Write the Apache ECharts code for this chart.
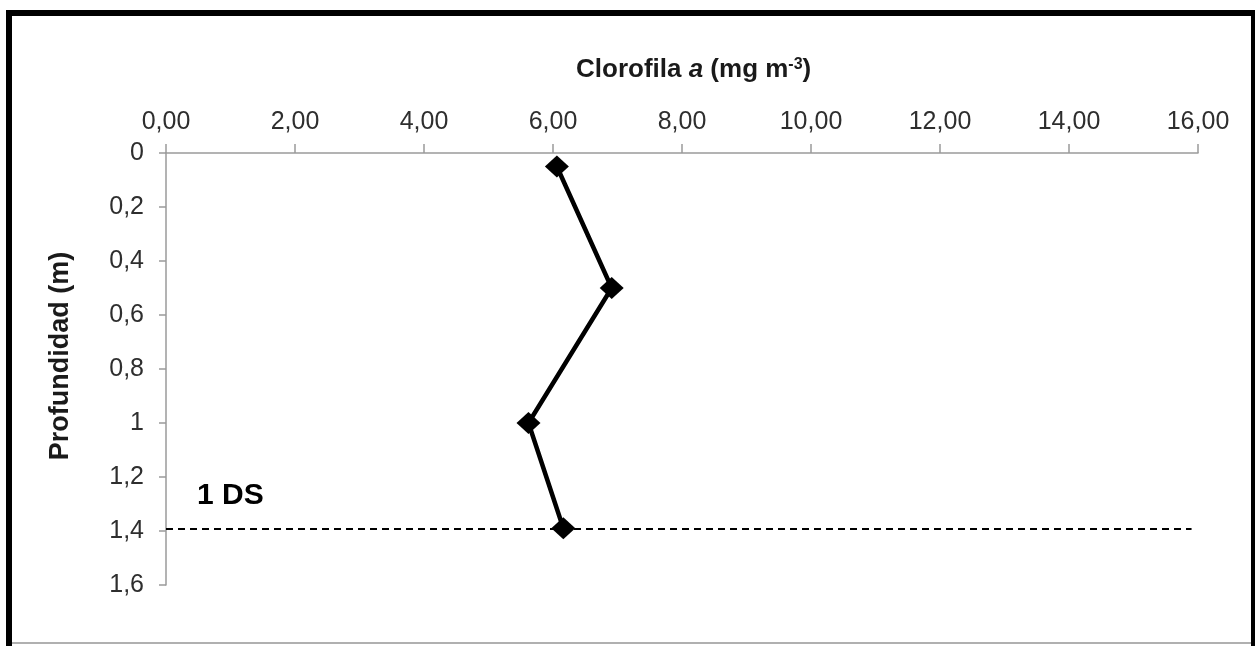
<!DOCTYPE html>
<html>
<head>
<meta charset="utf-8">
<script src="https://cdn.jsdelivr.net/npm/echarts@6/dist/echarts.min.js"></script>
<style>
  html, body { margin: 0; padding: 0; background: #fff; }
  #chart { width: 1255px; height: 646px; }
</style>
</head>
<body>
<div id="chart"></div>
<script>
// Chlorophyll a profile against depth
const clorofila = [6.06, 6.91, 5.62, 6.16];   // mg m-3
const profundidad = [0.05, 0.5, 1.0, 1.39];    // m
const discoSecchi = 1.39;                      // 1 DS depth (m)
const dsLabel = '1 DS';
const depthTitle = 'Profundidad (m)';

const FONT = '"Liberation Sans", Arial, sans-serif';

const fmtX = v => v.toFixed(2).replace('.', ',');
const fmtY = v => String(Number(v.toFixed(1))).replace('.', ',');

const chart = echarts.init(document.getElementById('chart'), null, { renderer: 'canvas' });

chart.setOption({
  animation: false,
  backgroundColor: '#ffffff',
  textStyle: { fontFamily: FONT },
  title: {
    text: '{b|Clorofila }{i|a}{b| (mg m}{s|-3}{b|)}',
    left: 571,
    top: 52,
    textStyle: {
      rich: {
        b: { fontFamily: FONT, fontWeight: 'bold', fontSize: 26, color: '#1a1a1a' },
        i: { fontFamily: FONT, fontWeight: 'bold', fontStyle: 'italic', fontSize: 26, color: '#1a1a1a' },
        s: { fontFamily: FONT, fontWeight: 'bold', fontSize: 16, color: '#1a1a1a', verticalAlign: 'top', padding: [0, 0, 8, 0] }
      }
    }
  },
  grid: { left: 166, right: 57, top: 153, bottom: 61, containLabel: false },
  xAxis: {
    type: 'value',
    position: 'top',
    min: 0, max: 16, interval: 2,
    axisLine: { show: true, lineStyle: { color: '#9a9a9a', width: 1.5 } },
    axisTick: { show: true, inside: false, length: 9, lineStyle: { color: '#9a9a9a', width: 1.5 } },
    axisLabel: { formatter: fmtX, fontFamily: FONT, fontSize: 25, color: '#2e2e2e', margin: 18 },
    splitLine: { show: false }
  },
  yAxis: {
    type: 'value',
    inverse: true,
    min: 0, max: 1.6, interval: 0.2,
    axisLine: { show: true, lineStyle: { color: '#9a9a9a', width: 1.5 } },
    axisTick: { show: true, inside: false, length: 7, lineStyle: { color: '#9a9a9a', width: 1.5 } },
    axisLabel: { formatter: fmtY, fontFamily: FONT, fontSize: 25, color: '#2e2e2e', margin: 22 },
    splitLine: { show: false }
  },
  series: [
    {
      type: 'line',
      data: clorofila.map((c, i) => [c, profundidad[i]]),
      symbol: 'diamond',
      symbolSize: [24, 22],
      itemStyle: { color: '#000' },
      lineStyle: { color: '#000', width: 4.5 },
      z: 3,
      markLine: {
        silent: true,
        symbol: 'none',
        lineStyle: { color: '#000', type: [7, 5], width: 2 },
        label: { show: false },
        data: [[{ coord: [0, discoSecchi] }, { coord: [15.9, discoSecchi] }]],
        z: 2
      }
    }
  ],
  graphic: [
    // vertical axis title
    {
      type: 'text',
      x: 61, y: 356,
      rotation: Math.PI / 2,
      style: {
        text: depthTitle, font: 'bold 27px ' + FONT, fill: '#1a1a1a',
        align: 'center', verticalAlign: 'middle'
      }
    },
    // "1 DS" annotation above the dashed line
    {
      type: 'text',
      left: 197, top: 481,
      style: { text: dsLabel, font: 'bold 30px ' + FONT, fill: '#000' }
    },
    // frame around the figure
    { type: 'rect', shape: { x: 6, y: 10, width: 1249, height: 6 }, style: { fill: '#000' } },
    { type: 'rect', shape: { x: 6, y: 10, width: 6, height: 636 }, style: { fill: '#000' } },
    { type: 'rect', shape: { x: 1251, y: 10, width: 4, height: 636 }, style: { fill: '#000' } },
    { type: 'rect', shape: { x: 12, y: 642, width: 1239, height: 2 }, style: { fill: '#b0b0b0' } }
  ]
});
</script>
</body>
</html>
